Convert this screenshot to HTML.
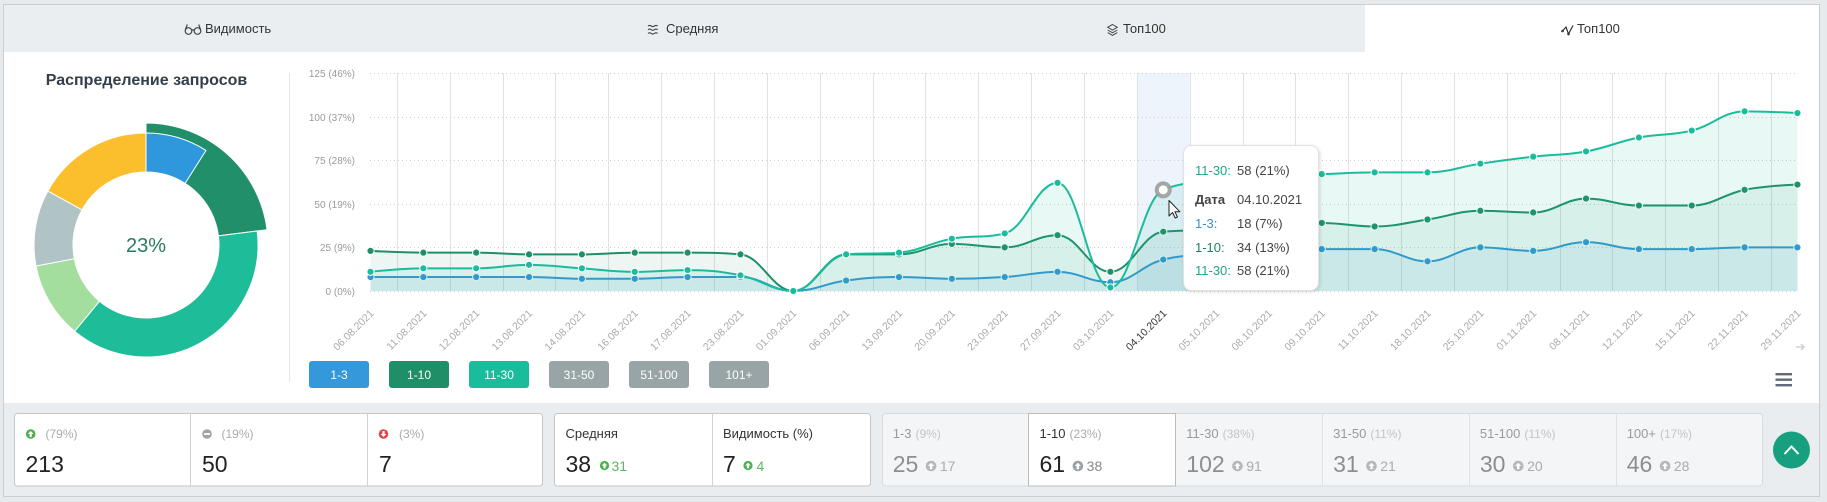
<!DOCTYPE html>
<html>
<head>
<meta charset="utf-8">
<style>
html,body{margin:0;padding:0;width:1827px;height:502px;overflow:hidden;background:#e7eaed;}
svg{position:absolute;left:0;top:0;font-family:"Liberation Sans","DejaVu Sans",Arial,sans-serif;}
</style>
</head>
<body>
<svg id="s" width="1827" height="502" viewBox="0 0 1827 502" xmlns="http://www.w3.org/2000/svg">
  <defs>
    <filter id="sh" x="-20%" y="-20%" width="140%" height="140%">
      <feDropShadow dx="1" dy="1" stdDeviation="1.6" flood-color="#000" flood-opacity="0.14"/>
    </filter>
  </defs>
  <!-- frame -->
  <rect x="3.5" y="4.5" width="1816" height="492" fill="#ffffff" stroke="#c9ced2"/>
  <rect x="4" y="5" width="1815" height="47" fill="#ebeef0"/>
  <rect x="1365" y="5" width="454" height="47" fill="#ffffff"/>
  <rect x="4" y="403" width="1815" height="93" fill="#eaedf0"/>

  <!-- tabs -->
  <g stroke="#444" fill="none" stroke-width="1.2">
    <circle cx="188.5" cy="31" r="3.3"/><circle cx="197.5" cy="31" r="3.3"/>
    <path d="M191.8 30.5 Q193 29 194.2 30.5 M185.3 30 L187.3 24.5 M200.7 30 L198.7 24.5"/>
    <path d="M648 26 q1.6 -1.2 3.2 0 t3.2 0 t3.2 0 M648 29.7 q1.6 -1.2 3.2 0 t3.2 0 t3.2 0 M648 33.4 q1.6 -1.2 3.2 0 t3.2 0 t3.2 0" stroke-width="1.1"/>
    <path d="M1112.5 24.5 L1117.3 27.3 L1112.5 30.1 L1107.7 27.3 Z M1107.7 30 L1112.5 32.8 L1117.3 30 M1107.7 32.6 L1112.5 35.4 L1117.3 32.6" stroke-width="1"/>
    <path d="M1562.5 31 L1566 27 L1568.5 34 L1573 25.5" stroke="#333" stroke-width="1.2"/>
  </g>
  <circle cx="1562.5" cy="31" r="1.3" fill="#333"/><circle cx="1568.5" cy="34" r="1.3" fill="#333"/>
  <g font-size="13" fill="#333">
    <text x="205" y="33">Видимость</text>
    <text x="666" y="33">Средняя</text>
    <text x="1123" y="33">Топ100</text>
    <text x="1577" y="33">Топ100</text>
  </g>

  <!-- left panel -->
  <text x="146.5" y="85" text-anchor="middle" font-size="16" font-weight="bold" fill="#333f4a">Распределение запросов</text>
  <line x1="289.5" y1="73" x2="289.5" y2="382" stroke="#e6e6e6"/>
  <g id="donut"></g>
  <text x="146" y="252" text-anchor="middle" font-size="20" fill="#2a7b5b">23%</text>

  <!-- chart -->
  <g id="chart"></g>

  <!-- legend buttons -->
  <g font-size="12" fill="#fff" text-anchor="middle">
    <rect x="309" y="361" width="60" height="27" rx="3" fill="#3498db"/><text x="339" y="379">1-3</text>
    <rect x="389" y="361" width="60" height="27" rx="3" fill="#1f8f68"/><text x="419" y="379">1-10</text>
    <rect x="469" y="361" width="60" height="27" rx="3" fill="#1abc9c"/><text x="499" y="379">11-30</text>
    <rect x="549" y="361" width="60" height="27" rx="3" fill="#98a4a5"/><text x="579" y="379">31-50</text>
    <rect x="629" y="361" width="60" height="27" rx="3" fill="#98a4a5"/><text x="659" y="379">51-100</text>
    <rect x="709" y="361" width="60" height="27" rx="3" fill="#98a4a5"/><text x="739" y="379">101+</text>
  </g>
  <!-- hamburger -->
  <g fill="#5f6b77">
    <rect x="1775.5" y="373" width="16.5" height="2.4"/>
    <rect x="1775.5" y="378.5" width="16.5" height="2.4"/>
    <rect x="1775.5" y="384" width="16.5" height="2.4"/>
  </g>
  <path d="M1796 347 H1804 M1801 344 L1804 347 L1801 350" stroke="#d0d0d0" stroke-width="1.5" fill="none"/>

  <!-- stats group 1 -->
  <rect x="14.5" y="413.5" width="528" height="72.5" rx="3" fill="#fff" stroke="#c6c6c6"/>
  <line x1="190.5" y1="414" x2="190.5" y2="486" stroke="#d2d2d2"/>
  <line x1="367.5" y1="414" x2="367.5" y2="486" stroke="#d2d2d2"/>
  <circle cx="30.7" cy="434" r="4.8" fill="#4cb050"/>
  <path d="M30.7 431 L33.6 434 L31.8 434 L31.8 437 L29.6 437 L29.6 434 L27.8 434 Z" fill="#fff"/>
  <text x="45.5" y="438" font-size="12" fill="#aaa">(79%)</text>
  <text x="25.5" y="472" font-size="23" fill="#222">213</text>
  <circle cx="207" cy="434" r="4.8" fill="#a2a2a2"/>
  <rect x="204" y="433.1" width="6" height="1.8" fill="#fff"/>
  <text x="221.5" y="438" font-size="12" fill="#aaa">(19%)</text>
  <text x="202" y="472" font-size="23" fill="#222">50</text>
  <circle cx="383.5" cy="434" r="4.8" fill="#e04848"/>
  <path d="M383.5 437 L386.4 434 L384.6 434 L384.6 431 L382.4 431 L382.4 434 L380.6 434 Z" fill="#fff"/>
  <text x="399" y="438" font-size="12" fill="#aaa">(3%)</text>
  <text x="379" y="472" font-size="23" fill="#222">7</text>

  <!-- stats group 2 -->
  <rect x="554.5" y="413.5" width="316" height="72.5" rx="3" fill="#fff" stroke="#c6c6c6"/>
  <line x1="712.5" y1="414" x2="712.5" y2="486" stroke="#d2d2d2"/>
  <text x="565.5" y="438" font-size="13" fill="#333">Средняя</text>
  <text x="565.5" y="472" font-size="23" fill="#222">38</text>
  <circle cx="604.5" cy="465.5" r="4.6" fill="#4cb050"/>
  <path d="M604.5 462.6 L607.3 465.5 L605.6 465.5 L605.6 468.4 L603.4 468.4 L603.4 465.5 L601.7 465.5 Z" fill="#fff"/>
  <text x="611.5" y="471" font-size="14" fill="#5cb85c">31</text>
  <text x="723" y="438" font-size="13" fill="#333">Видимость (%)</text>
  <text x="723" y="472" font-size="23" fill="#222">7</text>
  <circle cx="748" cy="465.5" r="4.6" fill="#4cb050"/>
  <path d="M748 462.6 L750.8 465.5 L749.1 465.5 L749.1 468.4 L746.9 468.4 L746.9 465.5 L745.2 465.5 Z" fill="#fff"/>
  <text x="756.5" y="471" font-size="14" fill="#5cb85c">4</text>

  <!-- stats group 3 -->
  <rect x="882.5" y="413.5" width="880" height="72.5" rx="3" fill="#f4f5f6" stroke="#d9dcde"/>
  <g stroke="#dfe2e4">
    <line x1="1322.5" y1="414" x2="1322.5" y2="486"/>
    <line x1="1469.5" y1="414" x2="1469.5" y2="486"/>
    <line x1="1616.5" y1="414" x2="1616.5" y2="486"/>
  </g>
  <rect x="1028.5" y="413.5" width="147" height="72.5" fill="#fff" stroke="#bdbdbd"/>
  <g id="cells"></g>

  <!-- scroll top button -->
  <circle cx="1791.5" cy="450" r="18.5" fill="#17a07f"/>
  <path d="M1784.5 454 L1791.5 446.5 L1798.5 454" stroke="#fff" stroke-width="2" fill="none"/>
</svg>
<script>
(function(){
  var f=function(n){return (Math.round(n*100)/100).toString();};
  // donut
  var cx=146,cy=245;
  function arc(r1,r2,a0,a1,fill){
    var rad=function(a){return (a-90)*Math.PI/180;};
    var p=function(r,a){return [cx+r*Math.cos(rad(a)),cy+r*Math.sin(rad(a))];};
    var large=(a1-a0)>180?1:0;
    var A=p(r2,a0),B=p(r2,a1),C=p(r1,a1),D=p(r1,a0);
    return '<path d="M'+f(A[0])+' '+f(A[1])+' A'+r2+' '+r2+' 0 '+large+' 1 '+f(B[0])+' '+f(B[1])+
      ' L'+f(C[0])+' '+f(C[1])+' A'+r1+' '+r1+' 0 '+large+' 0 '+f(D[0])+' '+f(D[1])+' Z" fill="'+fill+'" stroke="#fff" stroke-width="1"/>';
  }
  var d='';
  d+=arc(73,122,0,82.8,'#21906a');
  d+=arc(73,112,0,32.4,'#2f97dc');
  d+=arc(73,112,82.8,219.6,'#1dbd9a');
  d+=arc(73,112,219.6,259.2,'#a4de9f');
  d+=arc(73,112,259.2,298.8,'#b1c4c5');
  d+=arc(73,112,298.8,359.99,'#fbbf2e');
  document.getElementById('donut').innerHTML=d;

  // chart
  var X0=370.5,DX=52.85,YB=291,K=1.744;
  var px=function(i){return X0+i*DX;}, py=function(v){return YB-v*K;};
  var cats=['06.08.2021','11.08.2021','12.08.2021','13.08.2021','14.08.2021','16.08.2021','17.08.2021','23.08.2021','01.09.2021','06.09.2021','13.09.2021','20.09.2021','23.09.2021','27.09.2021','03.10.2021','04.10.2021','05.10.2021','08.10.2021','09.10.2021','11.10.2021','18.10.2021','25.10.2021','01.11.2021','08.11.2021','12.11.2021','15.11.2021','22.11.2021','29.11.2021'];
  var blue=[8,8,8,8,7,7,8,8,0,6,8,7,8,11,5,18,21,23,24,24,17,25,23,28,24,24,25,25];
  var dk=[23,22,22,21,21,22,22,21,0,21,21,27,25,32,11,34,35,37,39,37,41,46,45,53,49,49,58,61];
  var teal=[11,13,13,15,13,11,12,9,0,21,22,30,33,62,2,58,63,66,67,68,68,73,77,80,88,92,103,102];
  var h='';
  // hover band
  h+='<rect x="'+f(px(15)-DX/2)+'" y="73" width="'+DX+'" height="218" fill="#edf4fc"/>';
  // vertical grid
  for(var i=0;i<27;i++){
    var x=Math.round(px(i)+DX/2)+0.5;
    h+='<line x1="'+x+'" x2="'+x+'" y1="73" y2="291" stroke="#e2e2e2"/>';
  }
  // horizontal grid + labels
  var pcts=['0%','9%','19%','28%','37%','46%'];
  for(var k=0;k<=5;k++){
    var y=Math.round(py(k*25))+0.5;
    h+='<line x1="370" x2="1798" y1="'+y+'" y2="'+y+'" stroke="#cdcdcd" stroke-dasharray="1,3"/>';
    h+='<text x="355" y="'+f(y+3.5)+'" text-anchor="end" font-size="10" fill="#9a9a9a">'+(k*25)+' ('+pcts[k]+')</text>';
  }
  // x labels
  for(var i=0;i<cats.length;i++){
    var lx=px(i)+4, ly=314;
    var col=(i===15)?'#333':'#aaa';
    h+='<text x="'+f(lx)+'" y="'+ly+'" text-anchor="end" font-size="10.5" fill="'+col+'" transform="rotate(-45 '+f(lx)+' '+ly+')">'+cats[i]+'</text>';
  }
  function spline(pts){
    var s=1.5,dn=2.5,lc=[],rc=[];
    for(var i=0;i<pts.length;i++){
      var x=pts[i][0],y=pts[i][1];
      if(i===0||i===pts.length-1){lc[i]=[x,y];rc[i]=[x,y];continue;}
      var lx=pts[i-1][0],ly=pts[i-1][1],nx=pts[i+1][0],ny=pts[i+1][1];
      var lcx=(s*x+lx)/dn,lcy=(s*y+ly)/dn,rcx=(s*x+nx)/dn,rcy=(s*y+ny)/dn;
      var corr=0;
      if(rcx!==lcx){corr=((rcy-lcy)*(rcx-x))/(rcx-lcx)+y-rcy;}
      lcy+=corr;rcy+=corr;
      if(lcy>ly&&lcy>y){lcy=Math.max(ly,y);rcy=2*y-lcy;}
      else if(lcy<ly&&lcy<y){lcy=Math.min(ly,y);rcy=2*y-lcy;}
      if(rcy>ny&&rcy>y){rcy=Math.max(ny,y);lcy=2*y-rcy;}
      else if(rcy<ny&&rcy<y){rcy=Math.min(ny,y);lcy=2*y-rcy;}
      lc[i]=[lcx,lcy];rc[i]=[rcx,rcy];
    }
    var p='M'+f(pts[0][0])+' '+f(pts[0][1]);
    for(var i=1;i<pts.length;i++){
      p+=' C'+f(rc[i-1][0])+' '+f(rc[i-1][1])+' '+f(lc[i][0])+' '+f(lc[i][1])+' '+f(pts[i][0])+' '+f(pts[i][1]);
    }
    return p;
  }
  function series(data,color,fillOp){
    var pts=data.map(function(v,i){return [px(i),py(v)];});
    var line=spline(pts);
    var area=line+' L'+f(pts[pts.length-1][0])+' '+YB+' L'+f(pts[0][0])+' '+YB+' Z';
    var s='<path d="'+area+'" fill="'+color+'" fill-opacity="'+fillOp+'" stroke="none"/>';
    s+='<path d="'+line+'" fill="none" stroke="'+color+'" stroke-width="2" stroke-linejoin="round"/>';
    for(var i=0;i<pts.length;i++){
      if(color==='#1abc9c'&&i===15)continue;
      s+='<circle cx="'+f(pts[i][0])+'" cy="'+f(pts[i][1])+'" r="3.6" fill="'+color+'" stroke="#fff" stroke-width="1"/>';
    }
    return s;
  }
  h+=series(blue,'#3498db',0.08);
  h+=series(dk,'#1f8f68',0.08);
  h+=series(teal,'#1abc9c',0.1);
  // hover marker
  var hx=px(15),hy=py(58);
  h+='<circle cx="'+f(hx)+'" cy="'+f(hy)+'" r="6.5" fill="#fff" stroke="#9c9c9c" stroke-width="4" stroke-opacity="0.9"/>';
  h+='<circle cx="'+f(hx)+'" cy="'+f(hy)+'" r="4" fill="#fff"/>';
  // cursor
  var cx0=1169,cy0=200.5;
  var cp=[[0,0],[0,15.5],[3.6,12],[6.2,17.5],[8.4,16.5],[5.9,11.2],[10.8,11.2]];
  h+='<polygon points="'+cp.map(function(q){return f(cx0+q[0])+','+f(cy0+q[1]);}).join(' ')+'" fill="#fff" stroke="#222" stroke-width="1" stroke-linejoin="round"/>';
  // tooltip
  h+='<rect x="1183.5" y="145.5" width="135" height="145" rx="8" fill="#fff" stroke="#e2e2e2" filter="url(#sh)"/>';
  var T=function(x,y,txt,col,bold){return '<text x="'+x+'" y="'+y+'" font-size="13" fill="'+col+'"'+(bold?' font-weight="bold"':'')+'>'+txt+'</text>';};
  h+=T(1195,175,'11-30:','#1aa889')+T(1237,175,'58 (21%)','#444');
  h+=T(1195,204,'Дата','#444',true)+T(1237,204,'04.10.2021','#444');
  h+=T(1195,228,'1-3:','#3a8fd0')+T(1237,228,'18 (7%)','#444');
  h+=T(1195,252,'1-10:','#1f8063')+T(1237,252,'34 (13%)','#444');
  h+=T(1195,275,'11-30:','#1aa889')+T(1237,275,'58 (21%)','#444');
  document.getElementById('chart').innerHTML=h;

  // stat cells group 3
  var cells=[['1-3','(9%)','25','17'],['1-10','(23%)','61','38'],['11-30','(38%)','102','91'],['31-50','(11%)','31','21'],['51-100','(11%)','30','20'],['100+','(17%)','46','28']];
  var c='';
  for(var i=0;i<cells.length;i++){
    var act=(i===1);
    var x=882+i*146.8+10.7;
    c+='<text x="'+f(x)+'" y="438" font-size="13" fill="'+(act?'#333':'#9a9a9a')+'">'+cells[i][0]+'<tspan font-size="12" fill="'+(act?'#aaa':'#c4c4c4')+'" dx="4">'+cells[i][1]+'</tspan></text>';
    c+='<text x="'+f(x)+'" y="472" font-size="23" fill="'+(act?'#222':'#8e8e8e')+'">'+cells[i][2]+'</text>';
    var w=cells[i][2].length*0.556*23;
    var icx=x+w+12.8, icy=466;
    var icol=act?'#98a2aa':'#b3b8bb';
    c+='<circle cx="'+f(icx)+'" cy="'+icy+'" r="5.3" fill="'+icol+'"/>';
    c+='<path d="M'+f(icx)+' '+(icy-3.2)+' L'+f(icx+3.1)+' '+icy+' L'+f(icx+1.2)+' '+icy+' L'+f(icx+1.2)+' '+(icy+3.2)+' L'+f(icx-1.2)+' '+(icy+3.2)+' L'+f(icx-1.2)+' '+icy+' L'+f(icx-3.1)+' '+icy+' Z" fill="#fff"/>';
    c+='<text x="'+f(icx+8.8)+'" y="471" font-size="14" fill="'+(act?'#888':'#ababab')+'">'+cells[i][3]+'</text>';
  }
  document.getElementById('cells').innerHTML=c;
})();
</script>
</body>
</html>
